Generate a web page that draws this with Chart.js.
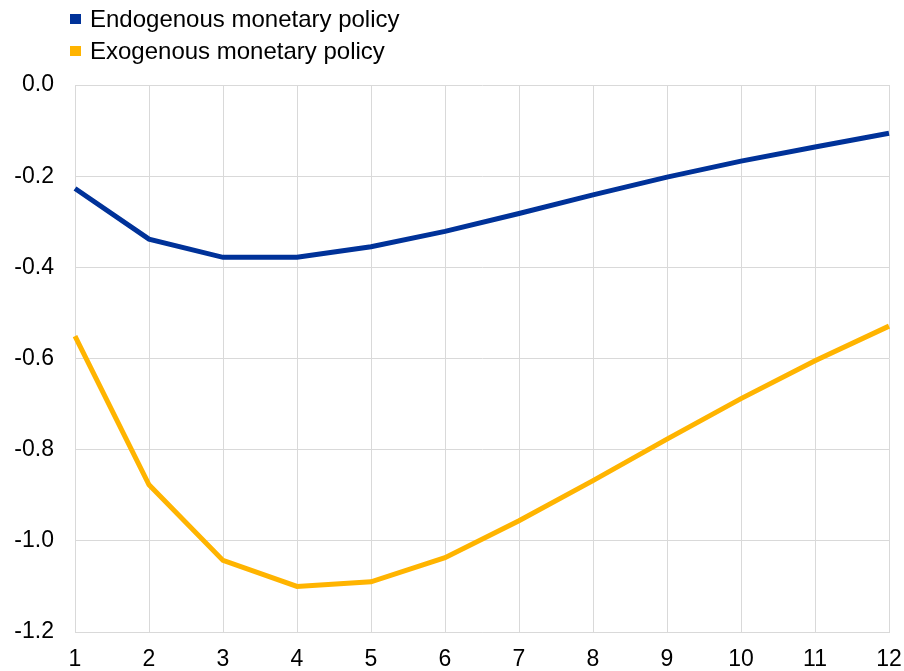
<!DOCTYPE html>
<html>
<head>
<meta charset="utf-8">
<script src="https://cdn.jsdelivr.net/npm/chart.js@4/dist/chart.umd.min.js"></script>
<style>
  html, body { margin: 0; padding: 0; background: #fff; }
  #wrap { position: relative; width: 904px; height: 671px; }
  #legend { position: absolute; left: 70px; top: 3px; font-family: "Liberation Sans", Arial, sans-serif; font-size: 24px; color: #000; }
  #legend div { height: 32px; line-height: 32px; white-space: nowrap; }
  #legend span.box { display: inline-block; width: 11px; height: 10px; margin-right: 9px; vertical-align: middle; position: relative; top: -2px; }
</style>
</head>
<body>
<div id="wrap">
  <canvas id="chart" width="904" height="671"></canvas>
  <div id="legend"></div>
</div>
<script>
// Data
const periods = ['1', '2', '3', '4', '5', '6', '7', '8', '9', '10', '11', '12'];
const endogenous = [-0.227, -0.338, -0.378, -0.378, -0.355, -0.321, -0.282, -0.241, -0.202, -0.167, -0.136, -0.106];
const exogenous = [-0.551, -0.877, -1.043, -1.100, -1.090, -1.037, -0.956, -0.868, -0.777, -0.688, -0.605, -0.529];
const seriesNames = ['Endogenous monetary policy', 'Exogenous monetary policy'];
const seriesColors = ['#003299', '#ffb400'];

document.addEventListener('DOMContentLoaded', function() {
    const font = { family: '"Liberation Sans", Arial, sans-serif', size: 23, lineHeight: 1 };
    const gridColor = '#d9d9d9';

    // Legend stacked vertically like the original
    const legend = document.getElementById('legend');
    seriesNames.forEach(function(name, i) {
        const row = document.createElement('div');
        row.innerHTML = '<span class="box" style="background:' + seriesColors[i] + '"></span>' + name;
        legend.appendChild(row);
    });

    const ctx = document.getElementById('chart').getContext('2d');
    new Chart(ctx, {
        type: 'line',
        data: {
            labels: periods,
            datasets: [{
                label: seriesNames[0],
                data: endogenous,
                borderColor: seriesColors[0],
                borderWidth: 5,
                pointRadius: 0,
                tension: 0
            }, {
                label: seriesNames[1],
                data: exogenous,
                borderColor: seriesColors[1],
                borderWidth: 5,
                pointRadius: 0,
                tension: 0
            }]
        },
        options: {
            responsive: false,
            animation: false,
            layout: { padding: { top: 85, right: 15, bottom: 0, left: 0 } },
            plugins: {
                legend: { display: false },
                tooltip: { enabled: false }
            },
            scales: {
                x: {
                    offset: false,
                    grid: { color: gridColor, lineWidth: 1, drawTicks: false },
                    border: { color: gridColor },
                    ticks: { color: '#000', font: font, padding: 16, maxRotation: 0 },
                    afterFit: function(scale) {
                        scale.height = 39;
                        scale.paddingLeft = 0;
                        scale.paddingRight = 0;
                    }
                },
                y: {
                    min: -1.2,
                    max: 0,
                    grid: { color: gridColor, lineWidth: 1, drawTicks: false },
                    border: { color: gridColor },
                    ticks: {
                        stepSize: 0.2,
                        color: '#000',
                        font: font,
                        padding: 21,
                        callback: function(v) { return Number(v).toFixed(1); }
                    },
                    afterFit: function(scale) {
                        scale.width = 75;
                        scale.paddingTop = 0;
                        scale.paddingBottom = 0;
                    }
                }
            }
        }
    });
});
</script>
</body>
</html>
